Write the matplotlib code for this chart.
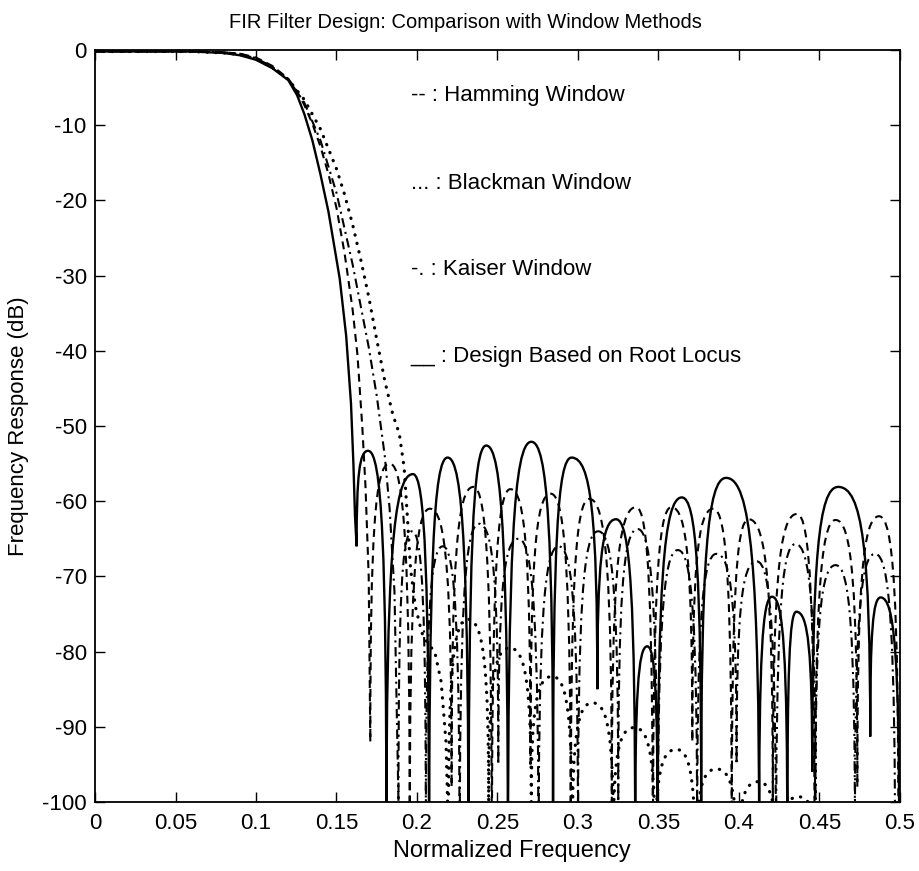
import matplotlib
matplotlib.use("Agg")
import matplotlib.pyplot as plt
from matplotlib.path import Path
from matplotlib.patches import PathPatch

plt.rcParams["font.family"] = ["Liberation Sans", "DejaVu Sans"]

# ---- frequency-response data (normalized frequency, dB) ----
# Each response: passband/transition samples, then stopband nulls and sidelobe peaks.

# Design based on root locus (solid)
rl_pass_f = [0, 0.06, 0.08, 0.09, 0.10, 0.11, 0.12, 0.1255, 0.13, 0.135, 0.14, 0.145, 0.152, 0.156, 0.159, 0.1605, 0.1615]
rl_pass_db = [-0.2, -0.2, -0.4, -0.7, -1.3, -2.4, -4.0, -6.0, -8.5, -12.0, -16.5, -21.5, -30.4, -38.0, -47.0, -55.0, -62.0]
rl_null_f = [0.1625, 0.181, 0.2075, 0.232, 0.2565, 0.2845, 0.312, 0.3355, 0.3495, 0.3765, 0.4125, 0.430, 0.4455, 0.4815, 0.4995]
rl_null_db = [-66, -105, -110, -110, -110, -100, -85, -105, -105, -100, -105, -105, -96, -91.3, -105]
rl_peak_f = [0.1696, 0.1975, 0.219, 0.243, 0.271, 0.296, 0.3236, 0.343, 0.3645, 0.392, 0.4205, 0.4356, 0.4616, 0.488]
rl_peak_db = [-53.3, -56.4, -54.2, -52.6, -52.1, -54.2, -62.4, -79.3, -59.5, -56.9, -72.7, -74.7, -58.1, -72.8]

# Hamming window (dashed)
hm_pass_f = [0, 0.06, 0.08, 0.09, 0.10, 0.11, 0.12, 0.125, 0.13, 0.135, 0.14, 0.145, 0.15, 0.155, 0.16, 0.163, 0.166, 0.168, 0.17]
hm_pass_db = [-0.2, -0.2, -0.3, -0.5, -1.0, -2.1, -3.8, -5.3, -7.3, -9.8, -12.8, -16.5, -21.0, -27.0, -34.5, -40.5, -50.0, -58.0, -70.0]
hm_null_f = [0.171, 0.1955, 0.2215, 0.2465, 0.2705, 0.2955, 0.321, 0.3465, 0.371, 0.3955, 0.421, 0.447, 0.4735, 0.499]
hm_null_db = [-92, -105, -98, -110, -95, -105, -100, -110, -92, -105, -100, -110, -98, -105]
hm_peak_f = [0.183, 0.208, 0.235, 0.258, 0.283, 0.307, 0.336, 0.358, 0.384, 0.406, 0.436, 0.460, 0.487]
hm_peak_db = [-55.0, -61.0, -58.1, -58.4, -59.0, -59.7, -60.8, -60.8, -61.0, -62.4, -61.7, -62.5, -62.0]

# Kaiser window (dash-dot)
ks_pass_f = [0, 0.06, 0.08, 0.09, 0.10, 0.11, 0.12, 0.13, 0.14, 0.15, 0.16, 0.17, 0.175, 0.18, 0.183, 0.186]
ks_pass_db = [-0.2, -0.2, -0.3, -0.5, -1.1, -2.2, -3.9, -7.0, -12.0, -19.0, -28.5, -39.5, -46.0, -54.0, -61.0, -72.0]
ks_null_f = [0.1885, 0.2055, 0.2265, 0.2505, 0.2755, 0.300, 0.325, 0.3495, 0.374, 0.3985, 0.423, 0.4475, 0.472, 0.497]
ks_null_db = [-100, -105, -110, -95, -110, -105, -100, -110, -105, -95, -110, -100, -105, -110]
ks_peak_f = [0.197, 0.216, 0.2385, 0.263, 0.288, 0.3125, 0.337, 0.362, 0.386, 0.411, 0.435, 0.460, 0.4845]
ks_peak_db = [-64.0, -66.0, -63.0, -65.0, -66.0, -64.0, -63.7, -66.5, -67.0, -68.0, -65.7, -68.5, -67.0]

# Blackman window (dotted)
bk_pass_f = [0, 0.06, 0.08, 0.09, 0.10, 0.11, 0.12, 0.13, 0.14, 0.15, 0.155, 0.16, 0.165, 0.17, 0.175,
             0.18, 0.185, 0.189, 0.192, 0.194, 0.196, 0.199, 0.203, 0.207, 0.211, 0.215, 0.218]
bk_pass_db = [-0.2, -0.2, -0.4, -0.6, -1.2, -2.3, -3.9, -6.6, -10.5, -15.8, -19.2, -23.2, -27.8, -32.8, -38.5,
              -44.0, -48.5, -51.0, -55.5, -62.0, -69.0, -74.0, -77.5, -79.0, -80.0, -84.0, -92.0]
bk_null_f = [0.2195, 0.2445, 0.271, 0.2965, 0.322, 0.348, 0.373, 0.399, 0.424, 0.450, 0.475, 0.500]
bk_null_db = [-104, -100, -100, -105, -105, -108, -110, -110, -112, -115, -120, -125]
bk_peak_f = [0.2315, 0.2575, 0.284, 0.309, 0.335, 0.361, 0.386, 0.412, 0.437, 0.462, 0.487]
bk_peak_db = [-75.7, -79.5, -83.3, -86.8, -90.1, -93.0, -95.6, -97.3, -99.3, -102.0, -104.0]

x_ticks = [0, 0.05, 0.1, 0.15, 0.2, 0.25, 0.3, 0.35, 0.4, 0.45, 0.5]
x_tick_labels = ["0", "0.05", "0.1", "0.15", "0.2", "0.25", "0.3", "0.35", "0.4", "0.45", "0.5"]
y_ticks = [0, -10, -20, -30, -40, -50, -60, -70, -80, -90, -100]
y_tick_labels = ["0", "-10", "-20", "-30", "-40", "-50", "-60", "-70", "-80", "-90", "-100"]

legend_lines = ["-- : Hamming Window", "... : Blackman Window", "-. : Kaiser Window",
                "__ : Design Based on Root Locus"]
legend_y = [-6.0, -17.7, -29.2, -40.7]


def response_path(pass_f, pass_db, null_f, null_db, peak_f, peak_db, k=0.75):
    """Transition samples joined by straight segments, each sidelobe drawn as two
    cubic Bezier flanks: vertical at the null, flat at the peak."""
    verts = [(pass_f[0], pass_db[0])]
    codes = [Path.MOVETO]
    for f, d in zip(pass_f[1:], pass_db[1:]):
        verts.append((f, d))
        codes.append(Path.LINETO)
    verts.append((null_f[0], null_db[0]))
    codes.append(Path.LINETO)
    for i in range(len(peak_f)):
        f0, d0 = null_f[i], null_db[i]
        fp, dp = peak_f[i], peak_db[i]
        f1, d1 = null_f[i + 1], null_db[i + 1]
        verts += [(f0, d0 + k * (dp - d0)), (fp - k * (fp - f0), dp), (fp, dp)]
        codes += [Path.CURVE4] * 3
        verts += [(fp + k * (f1 - fp), dp), (f1, d1 + k * (dp - d1)), (f1, d1)]
        codes += [Path.CURVE4] * 3
    return Path(verts, codes)


fig = plt.figure(figsize=(9.2, 8.71), dpi=100)
ax = fig.add_axes([95 / 920, 1 - 802 / 871, 805 / 920, 752 / 871])

styles = [
    (bk_pass_f, bk_pass_db, bk_null_f, bk_null_db, bk_peak_f, bk_peak_db,
     dict(lw=2.3, linestyle=(0, (0.1, 2.6)), capstyle="round")),
    (ks_pass_f, ks_pass_db, ks_null_f, ks_null_db, ks_peak_f, ks_peak_db,
     dict(lw=1.5, linestyle=(0, (4.5, 2.2, 1.0, 2.2)))),
    (hm_pass_f, hm_pass_db, hm_null_f, hm_null_db, hm_peak_f, hm_peak_db,
     dict(lw=1.5, linestyle=(0, (3.8, 2.6)))),
    (rl_pass_f, rl_pass_db, rl_null_f, rl_null_db, rl_peak_f, rl_peak_db,
     dict(lw=1.7, linestyle="-")),
]
for pf, pd, nf, nd, kf, kd, st in styles:
    ax.add_patch(PathPatch(response_path(pf, pd, nf, nd, kf, kd), fill=False,
                           edgecolor="black", **st))

ax.set_xlim(0, 0.5)
ax.set_ylim(-100, 0)
ax.set_xticks(x_ticks)
ax.set_xticklabels(x_tick_labels)
ax.set_yticks(y_ticks)
ax.set_yticklabels(y_tick_labels)
ax.tick_params(direction="in", top=True, right=True, length=7, width=1.0,
               labelsize=16, colors="black")
ax.tick_params(axis="x", pad=8)
ax.tick_params(axis="y", pad=6)
for sp in ax.spines.values():
    sp.set_linewidth(1.3)

for txt, yv in zip(legend_lines, legend_y):
    ax.text(0.196, yv, txt, fontsize=16, ha="left", va="center")

fig.text(465 / 920, 1 - 23 / 871, "FIR Filter Design: Comparison with Window Methods",
         fontsize=14.5, ha="center", va="center")
fig.text(512 / 920, 1 - 851 / 871, "Normalized Frequency", fontsize=17,
         ha="center", va="center")
ax.set_ylabel("Frequency Response (dB)", fontsize=16)
ax.yaxis.set_label_coords(-0.082, 0.5)

fig.savefig("out.png", dpi=100)
